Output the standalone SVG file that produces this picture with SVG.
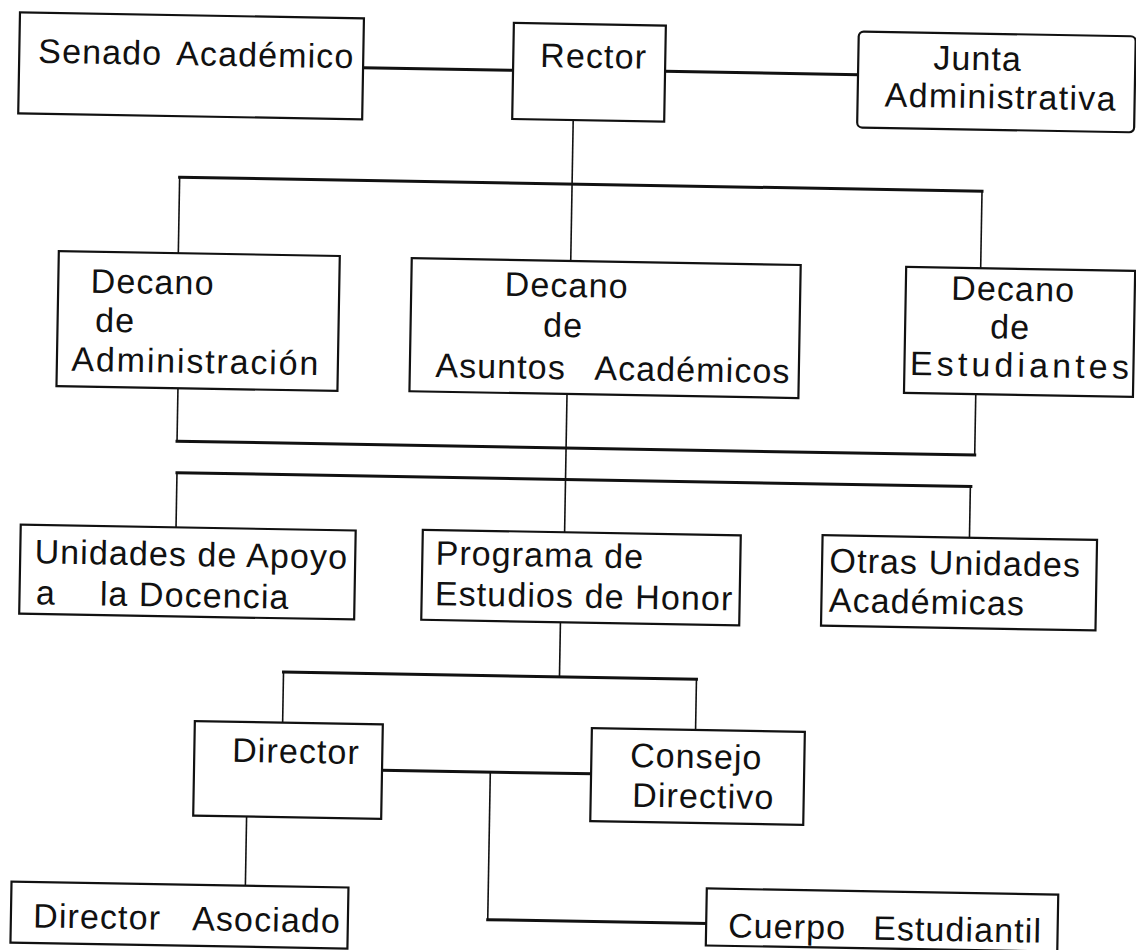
<svg xmlns="http://www.w3.org/2000/svg" width="1136" height="950" viewBox="0 0 1136 950">
<style>
.box{fill:#fff;stroke:#111;stroke-width:2.2}
.h{stroke:#111;stroke-width:3;fill:none;stroke-linecap:square}
.v{stroke:#111;stroke-width:1.6;fill:none}
text{font-family:"Liberation Sans",Arial,sans-serif;font-size:34px;fill:#111;letter-spacing:1.1px}
</style>
<rect width="1136" height="950" fill="#fff"/>
<g transform="rotate(1 568 475)">
<g id="connectors">
<line class="h" x1="356" y1="71.3" x2="506" y2="71.3"/>
<line class="h" x1="658" y1="69.6" x2="851" y2="69.6"/>
<line class="v" x1="567" y1="120" x2="567" y2="261"/>
<line class="h" x1="174.5" y1="184" x2="977" y2="184"/>
<line class="v" x1="174.5" y1="184" x2="174.5" y2="260"/>
<line class="v" x1="977" y1="184" x2="977" y2="261"/>
<line class="v" x1="176.5" y1="395" x2="176.5" y2="448"/>
<line class="v" x1="974.3" y1="387" x2="974.3" y2="448"/>
<line class="h" x1="176.5" y1="448" x2="974.3" y2="448"/>
<line class="v" x1="565.6" y1="394" x2="565.6" y2="532.3"/>
<line class="h" x1="177" y1="479.5" x2="971" y2="479.5"/>
<line class="v" x1="177" y1="479.5" x2="177" y2="534.2"/>
<line class="v" x1="970.5" y1="479.5" x2="970.5" y2="530.7"/>
<line class="v" x1="563" y1="622.3" x2="563" y2="677"/>
<line class="h" x1="287" y1="677" x2="700" y2="677"/>
<line class="v" x1="287" y1="677" x2="287" y2="727.6"/>
<line class="v" x1="700" y1="677" x2="700" y2="727.7"/>
<line class="h" x1="387.2" y1="773.4" x2="596.3" y2="773.4"/>
<line class="v" x1="495.5" y1="773.4" x2="495.5" y2="921"/>
<line class="h" x1="495.5" y1="921" x2="714" y2="921"/>
<line class="v" x1="252.6" y1="822.1" x2="252.6" y2="891.3"/>
</g>
<g id="senado"><rect class="box" x="12" y="22" width="344" height="101"/><text x="31" y="72">Senado<tspan x="169">Académico</tspan></text></g>
<g id="rector"><rect class="box" x="506" y="24" width="152" height="96"/><text x="533" y="67.5">Rector</text></g>
<g id="junta"><rect class="box" x="851" y="26.5" width="277" height="96" rx="5"/><text x="926" y="63">Junta</text><text x="878" y="101" textLength="232">Administrativa</text></g>
<g id="decano-administracion"><rect class="box" x="55" y="260" width="281" height="135"/><text x="87.5" y="301">Decano</text><text x="92.5" y="340">de</text><text x="69.5" y="379.5" textLength="248">Administración</text></g>
<g id="decano-academicos"><rect class="box" x="408" y="261" width="389" height="133"/><text x="501.5" y="297">Decano</text><text x="540.5" y="337">de</text><text x="433.5" y="379.3">Asuntos<tspan x="592.5">Académicos</tspan></text></g>
<g id="decano-estudiantes"><rect class="box" x="902.5" y="261" width="229" height="126"/><text x="948" y="293">Decano</text><text x="987.6" y="331">de</text><text x="908" y="369" textLength="220">Estudiantes</text></g>
<g id="unidades-apoyo"><rect class="box" x="21.7" y="534.2" width="335" height="89"/><text x="36" y="572.6">Unidades de Apoyo</text><text x="38" y="613.6">a<tspan x="102">la Docencia</tspan></text></g>
<g id="programa-honor"><rect class="box" x="423.8" y="532.3" width="318" height="90"/><text x="437" y="567">Programa de</text><text x="437" y="607.5">Estudios de Honor</text></g>
<g id="otras-unidades"><rect class="box" x="823.6" y="530.7" width="274.5" height="90.5"/><text x="831" y="567.8">Otras Unidades</text><text x="831" y="607.3">Académicas</text></g>
<g id="director"><rect class="box" x="199.2" y="727.6" width="188" height="94.5"/><text x="237" y="767.7">Director</text></g>
<g id="consejo-directivo"><rect class="box" x="596.3" y="727.7" width="213" height="93"/><text x="635" y="765.8">Consejo</text><text x="637.8" y="805.5">Directivo</text></g>
<g id="director-asociado"><rect class="box" x="18.7" y="891.3" width="337" height="61"/><text x="41" y="936.7">Director<tspan x="200">Asociado</tspan></text></g>
<g id="cuerpo-estudiantil"><rect class="box" x="714" y="886" width="351.5" height="57"/><text x="736" y="934.4">Cuerpo<tspan x="881">Estudiantil</tspan></text></g>
</g>
</svg>
